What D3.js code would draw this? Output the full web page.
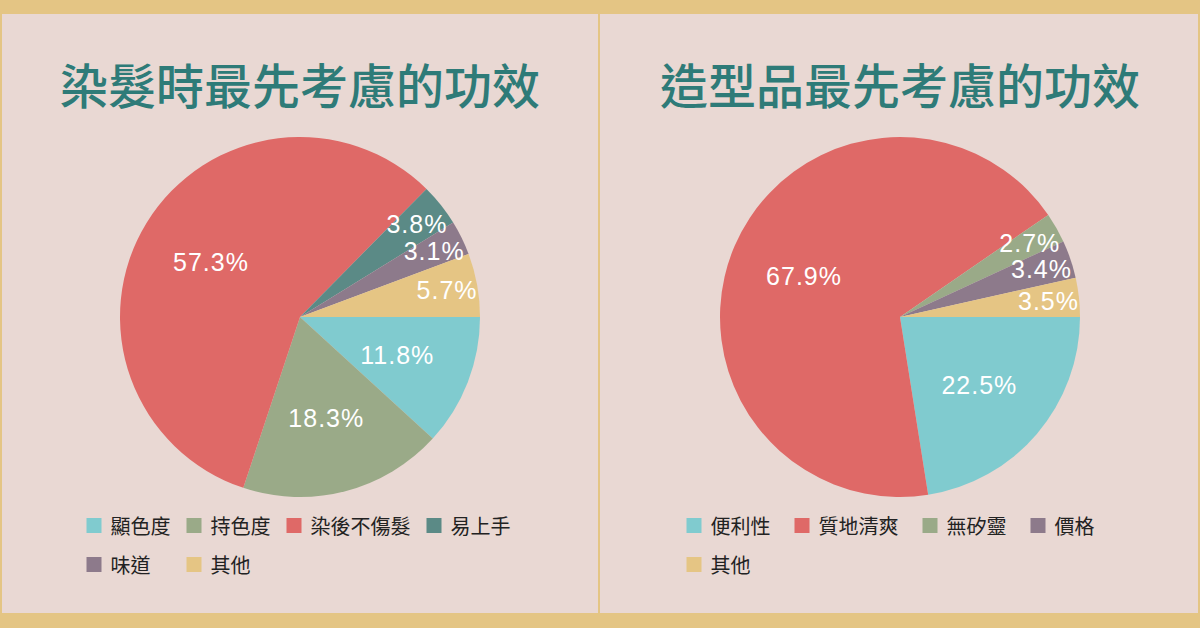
<!DOCTYPE html>
<html>
<head>
<meta charset="utf-8">
<script src="https://cdn.jsdelivr.net/npm/d3@7"></script>
<style>
  html, body { margin: 0; padding: 0; background: #e4c584; }
  svg { display: block; }
</style>
</head>
<body>
<div id="chart"></div>
<script>
// chart 1 data
const dyeTitle = "染髮時最先考慮的功效"
const dyeLabels = ["顯色度", "持色度", "染後不傷髮", "易上手", "味道", "其他"]
const dyeValues = [11.8, 18.3, 57.3, 3.8, 3.1, 5.7]
const dyeColors = ["#80cbcf", "#9aaa88", "#df6967", "#5b8a86", "#8d7a8b", "#e5c584"]

// chart 2 data
const styleTitle = "造型品最先考慮的功效"
const styleLabels = ["便利性", "質地清爽", "無矽靈", "價格", "其他"]
const styleValues = [22.5, 67.9, 2.7, 3.4, 3.5]
const styleColors = ["#80cbcf", "#df6967", "#9aaa88", "#8d7a8b", "#e5c584"]

const width = 1200
const height = 628
const bg = "#e9d8d3"
const gold = "#e4c584"

const svg = d3.select("#chart")
  .append("svg")
    .attr("width", width)
    .attr("height", height)

// frame
svg.append("rect").attr("width", width).attr("height", height).attr("fill", gold)
svg.append("rect")
  .attr("x", 2).attr("y", 14)
  .attr("width", width - 4).attr("height", 599)
  .attr("fill", bg)
svg.append("rect")
  .attr("x", 598).attr("y", 14)
  .attr("width", 2).attr("height", 599)
  .attr("fill", gold)

function drawPie(offsetX, title, labels, values, colors, legendGap){
  const cx = offsetX + 300
  const cy = 317
  const r = 180

  const g = svg.append("g")

  g.append("text")
    .attr("x", cx)
    .attr("y", 83)
    .attr("text-anchor", "middle")
    .attr("dominant-baseline", "central")
    .style("font-family", "'Noto Sans CJK TC', 'Noto Sans CJK SC', sans-serif")
    .style("font-weight", 500)
    .style("font-size", "48px")
    .style("fill", "#2e7b78")
    .text(title)

  const items = labels.map((l, i) => ({label: l, value: values[i], color: colors[i]}))

  // start at 3 o'clock, clockwise
  const pie = d3.pie()
    .sort(null)
    .value(d => d.value)
    .startAngle(Math.PI / 2)
    .endAngle(Math.PI / 2 + 2 * Math.PI)

  const arc = d3.arc().innerRadius(0).outerRadius(r)
  const arcs = pie(items)

  const pg = g.append("g").attr("transform", `translate(${cx},${cy})`)

  pg.selectAll("path")
    .data(arcs)
    .join("path")
      .attr("d", arc)
      .attr("fill", d => d.data.color)

  const total = d3.sum(values)
  pg.selectAll("text")
    .data(arcs)
    .join("text")
      .attr("transform", d => {
        const lr = d.data.value / total < 0.08 ? r * 0.83 : r * 0.58
        const c = d3.arc().innerRadius(lr).outerRadius(lr).centroid(d)
        return `translate(${c[0]},${c[1]})`
      })
      .attr("text-anchor", "middle")
      .attr("dominant-baseline", "central")
      .style("font-family", "'Liberation Sans', Arial, sans-serif")
      .style("font-size", "25px")
      .style("letter-spacing", "1px")
      .style("fill", "#ffffff")
      .text(d => d3.format(".1f")(d.data.value) + "%")

  // legend, 4 per row, columns sized by widest item
  const perRow = 4
  const fontSize = 20
  const colWidth = []
  items.forEach((d, i) => {
    const c = i % perRow
    const w = 15 + 9 + d.label.length * fontSize + legendGap
    colWidth[c] = Math.max(colWidth[c] || 0, w)
  })
  const colX = [0]
  for (let c = 1; c < colWidth.length; c++) colX[c] = colX[c - 1] + colWidth[c - 1]

  const lg = g.append("g").attr("transform", `translate(${offsetX + 86.5},0)`)
  const entry = lg.selectAll("g")
    .data(items)
    .join("g")
      .attr("transform", (d, i) => `translate(${colX[i % perRow]},${525.5 + Math.floor(i / perRow) * 39})`)

  entry.append("rect")
    .attr("x", 0).attr("y", -7.5)
    .attr("width", 15).attr("height", 15)
    .attr("fill", d => d.color)

  entry.append("text")
    .attr("x", 24)
    .attr("y", 0)
    .attr("dominant-baseline", "central")
    .style("font-family", "'Noto Sans CJK TC', 'Noto Sans CJK SC', sans-serif")
    .style("font-size", fontSize + "px")
    .style("fill", "#222")
    .text(d => d.label)
}

drawPie(0, dyeTitle, dyeLabels, dyeValues, dyeColors, 16)
drawPie(600, styleTitle, styleLabels, styleValues, styleColors, 24)
</script>
</body>
</html>
